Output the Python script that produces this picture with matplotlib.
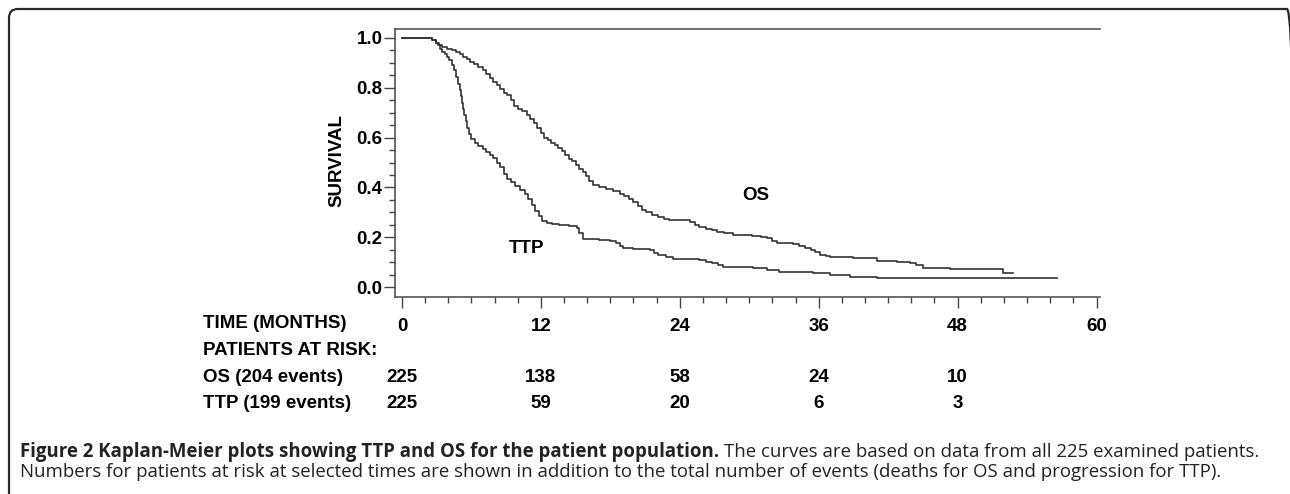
import matplotlib
matplotlib.use("Agg")
import matplotlib.pyplot as plt
from matplotlib.patches import FancyBboxPatch
from matplotlib.ticker import MultipleLocator

# Kaplan-Meier curves (months, survival)
os_months = [0, 2.4, 2.6, 2.9, 3.2, 3.5, 3.9, 4.3, 4.7, 5.0, 5.3, 5.6, 5.9, 6.2, 6.6,
             7.0, 7.3, 7.6, 7.9, 8.2, 8.5, 8.8, 9.1, 9.4, 9.7, 10.0, 10.4, 10.8, 11.1,
             11.4, 11.7, 12.0, 12.3, 12.6, 12.9, 13.2, 13.5, 13.8, 14.1, 14.4, 14.7,
             15.0, 15.3, 15.6, 15.9, 16.2, 16.5, 17.0, 17.6, 18.2, 18.8, 19.2, 19.6,
             20.0, 20.4, 20.7, 21.1, 21.6, 22.1, 22.6, 23.1, 24.9, 25.3, 25.7, 26.3,
             26.8, 27.2, 27.8, 28.6, 30.2, 31.0, 31.5, 32.0, 32.4, 33.8, 34.3, 34.8,
             35.3, 35.7, 36.1, 36.6, 37.0, 39.0, 41.0, 42.8, 43.9, 44.4, 45.0, 47.3,
             51.9, 52.8]
os_surv = [1.0, 1.0, 0.99, 0.98, 0.97, 0.962, 0.957, 0.95, 0.945, 0.935, 0.925, 0.915,
           0.905, 0.895, 0.885, 0.87, 0.855, 0.84, 0.825, 0.81, 0.795, 0.78, 0.77, 0.75,
           0.725, 0.715, 0.705, 0.69, 0.675, 0.66, 0.64, 0.62, 0.6, 0.59, 0.578, 0.57,
           0.56, 0.545, 0.53, 0.515, 0.505, 0.49, 0.475, 0.46, 0.445, 0.425, 0.41, 0.40,
           0.395, 0.385, 0.375, 0.365, 0.355, 0.34, 0.325, 0.31, 0.3, 0.288, 0.28,
           0.274, 0.269, 0.262, 0.25, 0.242, 0.235, 0.228, 0.222, 0.217, 0.209, 0.205,
           0.2, 0.195, 0.185, 0.178, 0.172, 0.165, 0.158, 0.15, 0.14, 0.13, 0.124, 0.12,
           0.115, 0.106, 0.102, 0.095, 0.088, 0.078, 0.071, 0.057, 0.057]

ttp_months = [0, 2.4, 2.6, 2.9, 3.1, 3.3, 3.5, 3.7, 3.9, 4.1, 4.3, 4.5, 4.7, 4.85, 5.0,
              5.1, 5.2, 5.3, 5.4, 5.5, 5.65, 5.8, 6.0, 6.3, 6.6, 7.0, 7.3, 7.6, 7.9, 8.2,
              8.5, 8.8, 9.1, 9.4, 9.8, 10.2, 10.6, 10.9, 11.2, 11.5, 11.8, 12.1, 12.5,
              13.0, 13.6, 14.4, 15.1, 15.3, 15.6, 17.0, 18.0, 18.5, 18.8, 19.1, 20.0,
              21.4, 21.8, 22.1, 22.8, 23.4, 25.7, 26.3, 26.8, 27.3, 27.7, 30.3, 31.5,
              32.6, 35.5, 37.0, 38.7, 41.0, 56.6]
ttp_surv = [1.0, 1.0, 0.99, 0.98, 0.97, 0.955, 0.945, 0.935, 0.925, 0.91, 0.89, 0.87,
            0.845, 0.815, 0.79, 0.765, 0.74, 0.715, 0.69, 0.665, 0.64, 0.615, 0.595,
            0.58, 0.568, 0.555, 0.543, 0.53, 0.518, 0.5, 0.482, 0.455, 0.435, 0.42,
            0.405, 0.39, 0.372, 0.355, 0.33, 0.305, 0.285, 0.265, 0.258, 0.253, 0.249,
            0.245, 0.237, 0.215, 0.193, 0.19, 0.185, 0.175, 0.165, 0.157, 0.152, 0.148,
            0.138, 0.13, 0.12, 0.112, 0.108, 0.1, 0.095, 0.088, 0.082, 0.078, 0.07,
            0.061, 0.056, 0.048, 0.041, 0.035, 0.035]

risk_times = [0, 12, 24, 36, 48]
os_at_risk = [225, 138, 58, 24, 10]
ttp_at_risk = [225, 59, 20, 6, 3]
x_ticks = [0, 12, 24, 36, 48, 60]
y_ticks = [0.0, 0.2, 0.4, 0.6, 0.8, 1.0]

W, H = 1290, 494
fig = plt.figure(figsize=(W / 100, H / 100), dpi=100)
fig.patch.set_facecolor("white")

# outer rounded frame, cut off at right and bottom (inches)
frame = FancyBboxPatch((0.09, -0.5), 12.96 - 0.09, 4.85 + 0.5,
                       boxstyle="round,pad=0,rounding_size=0.09",
                       transform=fig.dpi_scale_trans, fill=False,
                       edgecolor="#2a2a2a", linewidth=1.6)
fig.add_artist(frame)

ax = fig.add_axes([395 / W, 1 - 297 / H, (1100 - 395) / W, (297 - 29) / H])
ax.plot(os_months, os_surv, drawstyle="steps-post", color="#333333", lw=1.2)
ax.plot(ttp_months, ttp_surv, drawstyle="steps-post", color="#333333", lw=1.2)

ax.set_xlim(-0.6, 60.3)
ax.set_ylim(-0.04, 1.036)
ax.set_xticks(x_ticks)
ax.set_yticks(y_ticks)
ax.set_yticklabels([f"{v:.1f}" for v in y_ticks])
ax.xaxis.set_minor_locator(MultipleLocator(2))
ax.yaxis.set_minor_locator(MultipleLocator(0.05))
ax.tick_params(which="major", length=8, width=1, color="#444444", direction="out")
ax.tick_params(which="minor", length=4, width=1, color="#444444", direction="out")
ax.tick_params(axis="y", labelsize=13.5, pad=1)
ax.tick_params(axis="x", labelsize=13.5, pad=7)
for lab in ax.get_xticklabels() + ax.get_yticklabels():
    lab.set_fontweight("bold")
    lab.set_fontfamily("Liberation Sans")
for side in ["left", "bottom", "top"]:
    ax.spines[side].set_color("#555555")
    ax.spines[side].set_linewidth(1.2)
ax.spines["right"].set_visible(False)

ax.set_ylabel("SURVIVAL", fontsize=13.5, fontweight="bold", family="Liberation Sans",
              va="center")
ax.yaxis.set_label_coords(-0.082, 0.511)

ax.text(30.6, 0.369, "OS", ha="center", va="center", fontsize=13.5,
        fontweight="bold", family="Liberation Sans")
ax.text(10.8, 0.155, "TTP", ha="center", va="center", fontsize=13.5,
        fontweight="bold", family="Liberation Sans")

# patients at risk table
txt = dict(fontsize=13.5, fontweight="bold", family="Liberation Sans", va="center")
fig.text(203 / W, 1 - 323 / H, "TIME (MONTHS)", ha="left", **txt)
fig.text(203 / W, 1 - 350 / H, "PATIENTS AT RISK:", ha="left", **txt)
fig.text(203 / W, 1 - 377 / H, "OS (204 events)", ha="left", **txt)
fig.text(203 / W, 1 - 403 / H, "TTP (199 events)", ha="left", **txt)
blend = matplotlib.transforms.blended_transform_factory(ax.transData, fig.transFigure)
for t, a, b in zip(risk_times, os_at_risk, ttp_at_risk):
    fig.text(t, 1 - 377 / H, str(a), ha="center", transform=blend, **txt)
    fig.text(t, 1 - 403 / H, str(b), ha="center", transform=blend, **txt)

# caption
cap = dict(fontsize=13.4, family="Open Sans", va="center", ha="left", color="#222222")
t1 = fig.text(20 / W, 1 - 452 / H,
              "Figure 2 Kaplan-Meier plots showing TTP and OS for the patient population.",
              fontweight="bold", **cap)
fig.canvas.draw()
bb = t1.get_window_extent()
fig.text((bb.x1 + 5) / W, 1 - 452 / H,
         "The curves are based on data from all 225 examined patients.", **cap)
fig.text(20 / W, 1 - 472 / H,
         "Numbers for patients at risk at selected times are shown in addition to the "
         "total number of events (deaths for OS and progression for TTP).", **cap)

fig.savefig("out.png", dpi=100)
